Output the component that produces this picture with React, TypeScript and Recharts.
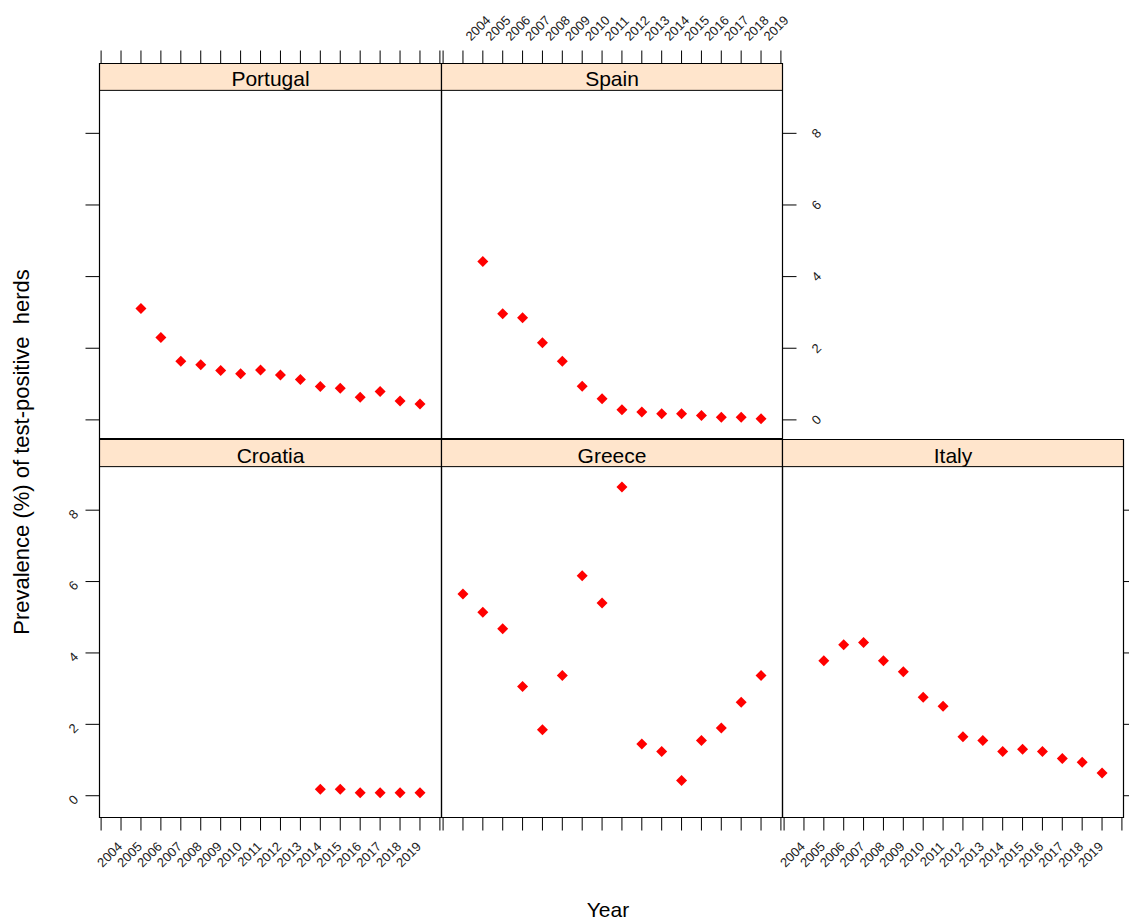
import { ScatterChart, Scatter, XAxis, YAxis, ReferenceArea } from "recharts";

// years on the x axis, one value per year (null = no observation)
const YEARS = [2004, 2005, 2006, 2007, 2008, 2009, 2010, 2011, 2012, 2013, 2014, 2015, 2016, 2017, 2018, 2019];
const TICK_YEARS = [2003, 2004, 2005, 2006, 2007, 2008, 2009, 2010, 2011, 2012, 2013, 2014, 2015, 2016, 2017, 2018, 2019, 2020];
const Y_TICKS = [0, 2, 4, 6, 8];

const portugal = [null, 3.11, 2.3, 1.64, 1.54, 1.38, 1.29, 1.39, 1.25, 1.13, 0.93, 0.88, 0.63, 0.79, 0.53, 0.44];
const spain = [null, 4.42, 2.96, 2.85, 2.15, 1.64, 0.94, 0.59, 0.28, 0.22, 0.17, 0.17, 0.12, 0.07, 0.07, 0.03];
const croatia = [null, null, null, null, null, null, null, null, null, null, 0.18, 0.18, 0.08, 0.08, 0.08, 0.08];
const greece = [5.65, 5.14, 4.68, 3.06, 1.85, 3.37, 6.16, 5.4, 8.65, 1.45, 1.24, 0.43, 1.55, 1.9, 2.62, 3.37];
const italy = [null, 3.78, 4.23, 4.29, 3.78, 3.47, 2.76, 2.51, 1.65, 1.55, 1.24, 1.3, 1.24, 1.04, 0.94, 0.64];

const W = 1129;
const H = 923;
const XDOMAIN = [2002.92, 2020.08];
const COLS = [99.5, 441.5, 782.5, 1123.5];
const ROWS = [
  { t: 63.5, b: 438.5, domain: [-0.52, 9.95], strip: 9.2 },
  { t: 439.5, b: 817.5, domain: [-0.61, 9.98], strip: 9.22 },
];
const STRIP_FILL = "#ffe5cc";
const LABEL_FILL = "#222";
const TICK_FONT = 13;

const Diamond = (props: any) => {
  const { cx, cy } = props;
  const r = 5.5;
  return <path d={`M${cx},${cy - r}L${cx + r},${cy}L${cx},${cy + r}L${cx - r},${cy}Z`} fill="#ff0000" />;
};

const yearText = (v: number) => (v >= 2004 && v <= 2019 ? String(v) : "");

const BottomYearTick = (props: any) => {
  const { x, y, payload } = props;
  const ax = x + 2;
  const ay = y + 17;
  return (
    <text x={ax} y={ay} transform={`rotate(-45 ${ax} ${ay})`} textAnchor="end" fontSize={TICK_FONT} fill={LABEL_FILL}>
      {yearText(payload.value)}
    </text>
  );
};

const TopYearTick = (props: any) => {
  const { x, y, payload } = props;
  const ax = x + 8;
  const ay = y - 9;
  return (
    <text x={ax} y={ay} transform={`rotate(-45 ${ax} ${ay})`} textAnchor="start" fontSize={TICK_FONT} fill={LABEL_FILL}>
      {yearText(payload.value)}
    </text>
  );
};

const LeftValueTick = (props: any) => {
  const { x, y, payload } = props;
  const ax = x - 12;
  const ay = y + 4;
  return (
    <text x={ax} y={ay} transform={`rotate(-45 ${ax} ${ay})`} textAnchor="middle" dominantBaseline="central" fontSize={TICK_FONT} fill={LABEL_FILL}>
      {payload.value}
    </text>
  );
};

const RightValueTick = (props: any) => {
  const { x, y, payload } = props;
  const ax = x + 20;
  const ay = y;
  return (
    <text x={ax} y={ay} transform={`rotate(-45 ${ax} ${ay})`} textAnchor="middle" dominantBaseline="central" fontSize={TICK_FONT} fill={LABEL_FILL}>
      {payload.value}
    </text>
  );
};

const NoTick = () => <g />;

type PanelProps = {
  name: string;
  values: (number | null)[];
  col: number;
  row: number;
  xAxis: "top" | "bottom" | null;
  yAxis: "left" | "right" | null;
  xLabels: boolean;
  yLabels: boolean;
};

function Panel({ name, values, col, row, xAxis, yAxis, xLabels, yLabels }: PanelProps) {
  const L = COLS[col];
  const R = COLS[col + 1];
  const { t, b, domain, strip } = ROWS[row];
  const data = YEARS.map((year, i) => ({ year, value: values[i] })).filter((d) => d.value !== null);

  const margin = {
    left: L - (yAxis === "left" ? 1 : 0),
    right: W - R - (yAxis === "right" ? 1 : 0),
    top: t - (xAxis === "top" ? 1 : 0),
    bottom: H - b - (xAxis === "bottom" ? 1 : 0),
  };

  let xTick: any = NoTick;
  if (xLabels) xTick = xAxis === "top" ? TopYearTick : BottomYearTick;
  let yTick: any = NoTick;
  if (yLabels) yTick = yAxis === "left" ? LeftValueTick : RightValueTick;

  return (
    <div style={{ position: "absolute", left: 0, top: 0 }}>
      <ScatterChart width={W} height={H} margin={margin}>
        <XAxis
          type="number"
          dataKey="year"
          domain={XDOMAIN}
          allowDataOverflow
          ticks={TICK_YEARS}
          interval={0}
          orientation={xAxis ?? "bottom"}
          hide={!xAxis}
          height={1}
          tickSize={13}
          tickMargin={0}
          axisLine={false}
          tickLine={{ stroke: "#000" }}
          tick={xTick}
        />
        <YAxis
          type="number"
          dataKey="value"
          domain={domain}
          allowDataOverflow
          ticks={Y_TICKS}
          interval={0}
          orientation={yAxis ?? "left"}
          hide={!yAxis}
          width={1}
          tickSize={14}
          tickMargin={0}
          axisLine={false}
          tickLine={{ stroke: "#000" }}
          tick={yTick}
        />
        <ReferenceArea
          x1={XDOMAIN[0]}
          x2={XDOMAIN[1]}
          y1={strip}
          y2={domain[1]}
          fill={STRIP_FILL}
          fillOpacity={1}
          stroke="#000"
          strokeWidth={1}
          label={{ value: name, position: "center", fontSize: 21, fill: "#000", dy: 2 }}
        />
        <ReferenceArea
          x1={XDOMAIN[0]}
          x2={XDOMAIN[1]}
          y1={domain[0]}
          y2={domain[1]}
          fill="none"
          fillOpacity={0}
          stroke="#000"
          strokeWidth={1.2}
        />
        <Scatter data={data} dataKey="value" shape={Diamond} isAnimationActive={false} />
      </ScatterChart>
    </div>
  );
}

export default function App() {
  return (
    <div
      style={{
        position: "absolute",
        left: 0,
        top: 0,
        width: W,
        height: H,
        background: "#fff",
        fontFamily: '"Liberation Sans", Arial, sans-serif',
      }}
    >
      <svg width={W} height={H} style={{ position: "absolute", left: 0, top: 0 }}>
        <text
          x={28.5}
          y={452}
          transform="rotate(-90 28.5 452)"
          textAnchor="middle"
          fontSize={22}
          fill="#000"
          style={{ whiteSpace: "pre" }}
        >
          {"Prevalence (%) of test-positive  herds"}
        </text>
        <text x={608} y={917} textAnchor="middle" fontSize={21} fill="#000">
          Year
        </text>
      </svg>
      <Panel name="Portugal" values={portugal} col={0} row={0} xAxis="top" yAxis="left" xLabels={false} yLabels={false} />
      <Panel name="Spain" values={spain} col={1} row={0} xAxis="top" yAxis="right" xLabels yLabels />
      <Panel name="Croatia" values={croatia} col={0} row={1} xAxis="bottom" yAxis="left" xLabels yLabels />
      <Panel name="Greece" values={greece} col={1} row={1} xAxis="bottom" yAxis={null} xLabels={false} yLabels={false} />
      <Panel name="Italy" values={italy} col={2} row={1} xAxis="bottom" yAxis="right" xLabels yLabels={false} />
    </div>
  );
}
